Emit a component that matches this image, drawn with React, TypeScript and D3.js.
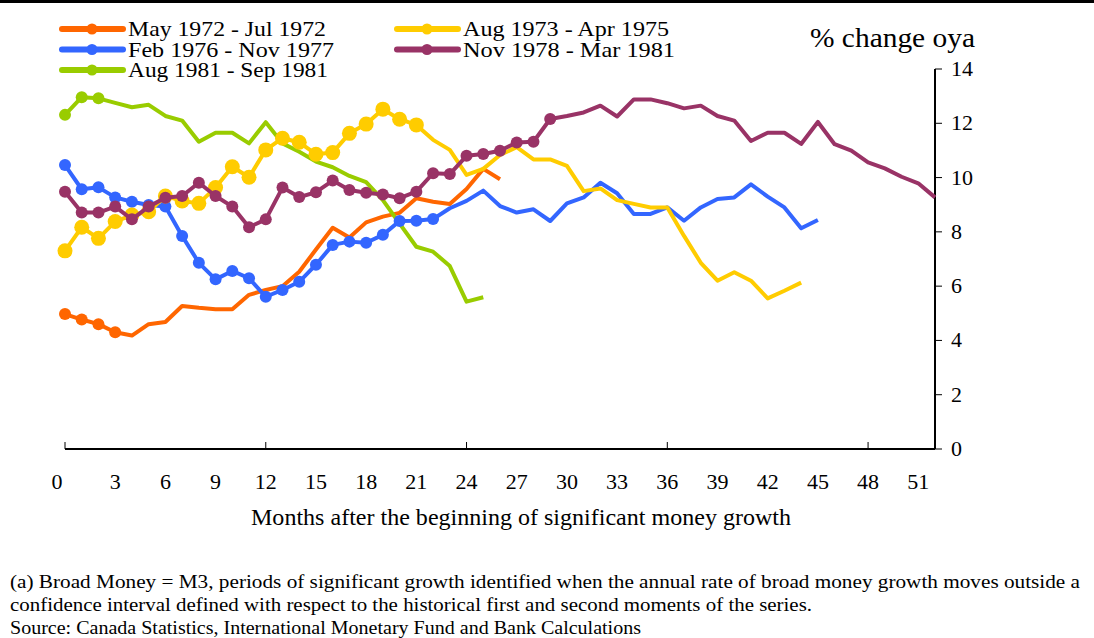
import React from "react";
import * as d3 from "d3";

// % change oya, month 0 = start of the significant growth period
const may1972 = [4.97, 4.77, 4.6, 4.3, 4.18, 4.6, 4.68, 5.27, 5.2, 5.15, 5.15, 5.68, 5.86, 6.0, 6.53, 7.35, 8.15, 7.79, 8.35, 8.56, 8.7, 9.24, 9.11, 9.03, 9.58, 10.32, 9.94];
const aug1973 = [7.3, 8.17, 7.76, 8.38, 8.62, 8.74, 9.32, 9.14, 9.05, 9.63, 10.4, 10.01, 11.02, 11.45, 11.3, 10.86, 10.92, 11.63, 11.97, 12.52, 12.15, 11.94, 11.39, 11.02, 10.1, 10.32, 10.83, 11.12, 10.67, 10.67, 10.43, 9.5, 9.6, 9.17, 9.03, 8.9, 8.9, 7.85, 6.86, 6.2, 6.51, 6.2, 5.55, 5.83, 6.13];
const feb1976 = [10.46, 9.57, 9.64, 9.27, 9.11, 8.99, 8.93, 7.85, 6.86, 6.25, 6.56, 6.29, 5.61, 5.86, 6.16, 6.79, 7.52, 7.64, 7.6, 7.89, 8.4, 8.41, 8.47, 8.87, 9.14, 9.52, 8.95, 8.71, 8.83, 8.4, 9.05, 9.27, 9.81, 9.42, 8.66, 8.66, 8.9, 8.41, 8.9, 9.21, 9.27, 9.75, 9.3, 8.9, 8.13, 8.44];
const nov1978 = [9.48, 8.71, 8.71, 8.93, 8.46, 8.93, 9.26, 9.32, 9.81, 9.32, 8.93, 8.17, 8.46, 9.63, 9.28, 9.46, 9.89, 9.54, 9.44, 9.38, 9.24, 9.48, 10.16, 10.13, 10.8, 10.87, 10.99, 11.29, 11.32, 12.16, 12.27, 12.4, 12.65, 12.25, 12.88, 12.88, 12.74, 12.55, 12.65, 12.27, 12.1, 11.35, 11.65, 11.65, 11.24, 12.05, 11.23, 10.99, 10.56, 10.34, 10.03, 9.79, 9.27];
const aug1981 = [12.31, 12.96, 12.92, 12.75, 12.59, 12.68, 12.27, 12.1, 11.32, 11.65, 11.65, 11.26, 12.04, 11.26, 10.95, 10.59, 10.38, 10.06, 9.83, 9.17, 8.3, 7.45, 7.27, 6.74, 5.43, 5.59];

// number of months flagged as significant growth (drawn with markers)
const flagged = { may1972: 4, aug1973: 22, feb1976: 23, nov1978: 30, aug1981: 3 };

const xTicks = d3.range(0, 52, 3);
const xMajor = [0, 12, 24, 36, 48];
const yTicks = [0, 2, 4, 6, 8, 10, 12, 14];

const footnote = [
  "(a) Broad Money = M3, periods of significant growth identified when the annual rate of broad money growth moves outside a",
  "confidence interval defined with respect to the historical first and second moments of the series.",
  "Source:  Canada Statistics, International Monetary Fund and Bank Calculations",
];
const footnoteWidths = [1070, 802, 631];

const series = [
  { key: "may1972", label: "May 1972 - Jul 1972", values: may1972, color: "#FF6600", r: 6, lw: 198 },
  { key: "aug1981", label: "Aug 1981 - Sep 1981", values: aug1981, color: "#99CC00", r: 6, lw: 200 },
  { key: "feb1976", label: "Feb 1976 - Nov 1977", values: feb1976, color: "#3366FF", r: 6, lw: 206 },
  { key: "aug1973", label: "Aug 1973 - Apr 1975", values: aug1973, color: "#FFCC00", r: 7.5, lw: 206 },
  { key: "nov1978", label: "Nov 1978 - Mar 1981", values: nov1978, color: "#993366", r: 6, lw: 212 },
];

const legendOrder = ["may1972", "aug1973", "feb1976", "nov1978", "aug1981"];

const W = 1094;
const H = 638;
const font = "'Liberation Serif', 'Times New Roman', serif";

export default function App() {
  const x = d3.scaleLinear().domain([0, 52]).range([65, 935]);
  const y = d3.scaleLinear().domain([0, 14]).range([449, 69]);

  const line = d3
    .line<number>()
    .x((_, i) => x(i))
    .y((d) => y(d));

  return (
    <div>
      <svg
        width={W}
        height={H}
        style={{ position: "absolute", left: 0, top: 0, background: "#fff" }}
        fontFamily={font}
      >
        <rect x={0} y={0} width={W} height={3} fill="#000" />

        {/* legend */}
        {legendOrder.map((k, i) => {
          const s = series.find((d) => d.key === k)!;
          const lx = i % 2 === 0 ? 62 : 397;
          const ly = 29 + Math.floor(i / 2) * 20.5;
          return (
            <g key={k}>
              <line x1={lx} x2={lx + 61} y1={ly} y2={ly} stroke={s.color} strokeWidth={6} strokeLinecap="round" />
              <circle cx={lx + 30} cy={ly} r={5.5} fill={s.color} />
              <text
                x={lx + 66}
                y={ly + 7}
                fontSize={22}
                fill="#000"
                textLength={s.lw}
                lengthAdjust="spacingAndGlyphs"
              >
                {s.label}
              </text>
            </g>
          );
        })}

        <text x={810} y={47} fontSize={28} fill="#000" textLength={165} lengthAdjust="spacingAndGlyphs">
          % change oya
        </text>

        {/* axes */}
        <line x1={x(0)} x2={x(52)} y1={y(0)} y2={y(0)} stroke="#000" strokeWidth={2} />
        {xMajor.map((v) => (
          <line key={v} x1={x(v)} x2={x(v)} y1={y(0)} y2={y(0) - 7} stroke="#000" strokeWidth={1} />
        ))}
        {xTicks.map((v) => (
          <text key={v} x={x(v) - (v === 0 ? 8 : 0)} y={489} fontSize={22} textAnchor="middle" fill="#000">
            {v}
          </text>
        ))}
        <text x={251} y={525} fontSize={23} fill="#000" textLength={540} lengthAdjust="spacingAndGlyphs">
          Months after the beginning of significant money growth
        </text>

        <line x1={x(52)} x2={x(52)} y1={y(14)} y2={y(0)} stroke="#000" strokeWidth={2} />
        {yTicks.map((v) => (
          <g key={v}>
            <line x1={x(52)} x2={x(52) + 7} y1={y(v)} y2={y(v)} stroke="#000" strokeWidth={1} />
            <text x={951} y={y(v) + 7} fontSize={22} fill="#000">
              {v}
            </text>
          </g>
        ))}

        {/* series */}
        {series.map((s) => (
          <g key={s.key}>
            <path
              d={line(s.values) ?? ""}
              fill="none"
              stroke={s.color}
              strokeWidth={4}
              strokeLinejoin="round"
            />
            {s.values.slice(0, flagged[s.key as keyof typeof flagged]).map((v, i) => (
              <circle key={i} cx={x(i)} cy={y(v)} r={s.r} fill={s.color} />
            ))}
          </g>
        ))}

        {/* footnote */}
        {footnote.map((t, i) => (
          <text
            key={i}
            x={10}
            y={588 + i * 23}
            fontSize={19}
            fill="#000"
            textLength={footnoteWidths[i]}
            lengthAdjust="spacingAndGlyphs"
          >
            {t}
          </text>
        ))}
      </svg>
    </div>
  );
}
